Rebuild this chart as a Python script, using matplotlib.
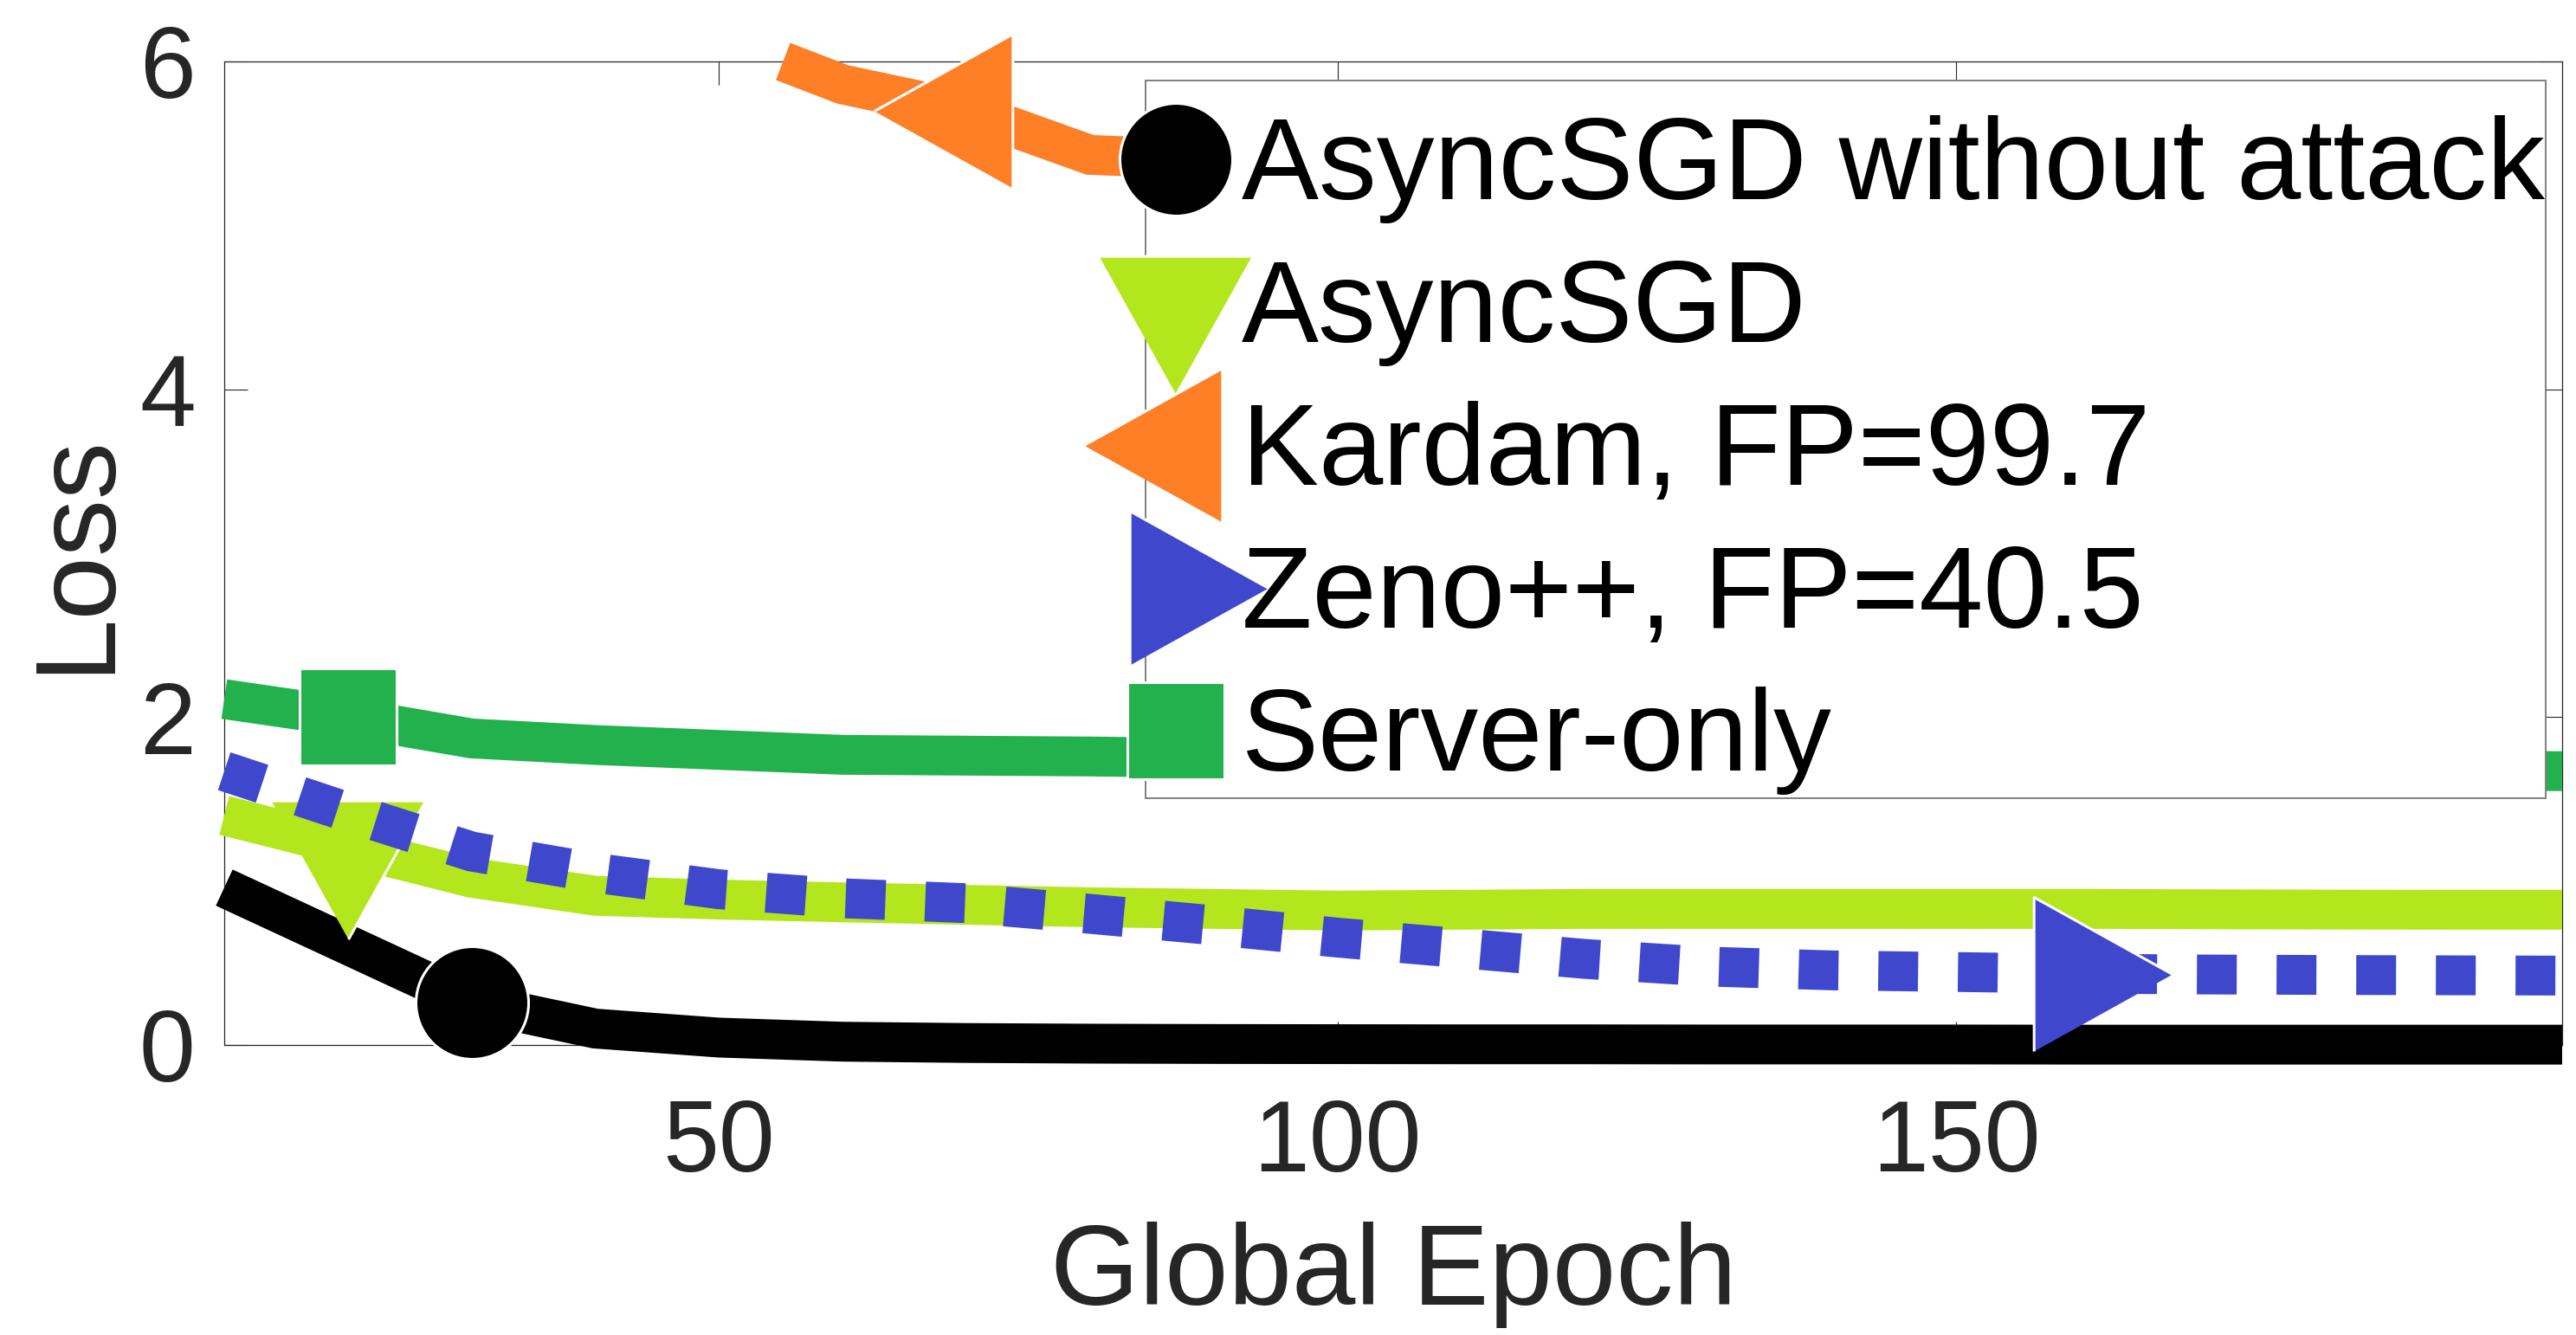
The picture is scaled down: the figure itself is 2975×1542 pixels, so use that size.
import numpy as np
import matplotlib
matplotlib.use('Agg')
import matplotlib.pyplot as plt
from matplotlib.lines import Line2D
from matplotlib.patches import Rectangle

plt.rcParams['font.family'] = ['Liberation Sans', 'DejaVu Sans']

# epochs and loss curves
epochs = [10, 20, 30, 40, 50, 60, 70, 80, 90, 100, 110, 120, 130, 140, 150, 160, 170, 180, 190, 200]
loss_no_attack = [0.96, 0.61, 0.26, 0.10, 0.045, 0.02, 0.012, 0.008, 0.006, 0.005, 0.004, 0.004, 0.003,
                  0.003, 0.003, 0.002, 0.002, 0.002, 0.002, 0.002]
loss_async = [1.40, 1.21, 1.02, 0.91, 0.887, 0.87, 0.855, 0.84, 0.83, 0.82, 0.825, 0.83, 0.83,
              0.83, 0.83, 0.83, 0.828, 0.826, 0.825, 0.825]
loss_kardam = [9.0, 8.1, 7.3, 6.6, 6.15, 5.86, 5.70, 5.43, 5.40, 5.38, 5.36, 5.35, 5.34,
               5.33, 5.32, 5.31, 5.30, 5.30, 5.30]
loss_zeno = [1.67, 1.42, 1.18, 1.05, 0.95, 0.895, 0.865, 0.80, 0.73, 0.655, 0.59, 0.525, 0.478,
             0.455, 0.445, 0.435, 0.43, 0.427, 0.425, 0.423]
loss_server = [2.11, 2.00, 1.87, 1.83, 1.80, 1.77, 1.765, 1.76, 1.75, 1.74, 1.73, 1.72, 1.71,
               1.70, 1.695, 1.69, 1.685, 1.68, 1.675, 1.67]

labels = ['AsyncSGD without attack', 'AsyncSGD', 'Kardam, FP=99.7', 'Zeno++, FP=40.5', 'Server-only']
colors = ['#000000', '#b3e61c', '#ff7f27', '#3f48cc', '#22b14c']
mark_at = [30, 20, 70, 160, 20]

XLIM = (10, 199)
YLIM = (0, 6)


def clip_line(x, y, xlo, xhi, yhi):
    """clip the polyline to the axes box (like matlab does) so the thick stroke can run past it"""
    px, py = [], []
    for i in range(len(x) - 1):
        x0, y0, x1, y1 = x[i], y[i], x[i + 1], y[i + 1]
        dx, dy = x1 - x0, y1 - y0
        t0, t1 = 0.0, 1.0
        ok = True
        for p, q in [(-dx, x0 - xlo), (dx, xhi - x0), (dy, yhi - y0)]:
            if p == 0:
                if q < 0:
                    ok = False
            elif p < 0:
                t0 = max(t0, q / p)
            else:
                t1 = min(t1, q / p)
        if not ok or t0 > t1:
            continue
        for t in (t0, t1):
            pt = (x0 + t * dx, y0 + t * dy)
            if not px or abs(px[-1] - pt[0]) > 1e-9 or abs(py[-1] - pt[1]) > 1e-9:
                px.append(pt[0])
                py.append(pt[1])
    return np.array(px), np.array(py)


def tri(direction):
    # triangle with centroid at the origin (matlab style), sizes in px
    w, h = 178, 160
    if direction == 'down':
        return [(-w / 2, h / 3), (w / 2, h / 3), (0, -2 * h / 3)]
    if direction == 'left':
        return [(h / 3, -w / 2), (h / 3, w / 2), (-2 * h / 3, 0)]
    return [(-h / 3, -w / 2), (-h / 3, w / 2), (2 * h / 3, 0)]


PX = 72 / 100  # px -> pt at dpi 100
tri_ms = 2 * (2 * 160 / 3) * PX
markers = ['o', tri('down'), tri('left'), tri('right'), 's']
msizes = [130 * PX, tri_ms, tri_ms, tri_ms, 112 * PX]
styles = ['-', '-', '-', (0, (1, 1)), '-']
series = [loss_no_attack, loss_async, loss_kardam, loss_zeno, loss_server]

fig = plt.figure(figsize=(29.75, 15.42), dpi=100)
ax = fig.add_axes([259 / 2975, 1 - 1207 / 1542, 2700 / 2975, 1136 / 1542])

LW = 46 * PX
for vals, c, ls, m, ms, at in zip(series, colors, styles, markers, msizes, mark_at):
    x = np.array(epochs[:len(vals)], dtype=float)
    y = np.array(vals, dtype=float)
    cx, cy = clip_line(x, y, XLIM[0], XLIM[1], YLIM[1])
    ax.plot(cx, cy, color=c, lw=LW, ls=ls, solid_capstyle='butt', dash_capstyle='butt',
            solid_joinstyle='miter', dash_joinstyle='miter', clip_on=False, zorder=3)
    i = epochs.index(at)
    ax.plot([epochs[i]], [vals[i]], ls='none', marker=m, ms=ms, color=c, mec='white', mew=2.2,
            clip_on=False, zorder=3)

ax.set_xlim(*XLIM)
ax.set_ylim(*YLIM)
ax.set_xticks([50, 100, 150])
ax.set_yticks([0, 2, 4, 6])
ax.tick_params(direction='in', length=19.5, width=0.8, top=True, right=True,
               labelsize=84, colors='#262626')
ax.tick_params(axis='x', pad=44)
ax.tick_params(axis='y', pad=24)
for s in ax.spines.values():
    s.set_color('#262626')
    s.set_linewidth(0.9)

ax.set_xlabel('Global Epoch', fontsize=95, color='#262626')
ax.set_ylabel('Loss', fontsize=95, color='#262626')
ax.xaxis.set_label_coords(0.5, -0.18)
ax.yaxis.set_label_coords(-0.0405, 0.5)

# legend box drawn separately (matlab pads the top more than the bottom)
box = Rectangle((0.394, 0.251), 0.599, 0.730, transform=ax.transAxes, facecolor='white',
                edgecolor='#7f7f7f', lw=1.4, clip_on=False, zorder=9)
ax.add_patch(box)

handles = [Line2D([], [], ls='none', marker=m, ms=ms, color=c, mec='white', mew=2.2)
           for m, ms, c in zip(markers, msizes, colors)]
leg = ax.legend(handles, labels, loc='upper left', bbox_to_anchor=(0.398, 0.945), fontsize=96,
                frameon=False, borderpad=0, handlelength=0.37, handletextpad=0.38,
                labelspacing=0.3, borderaxespad=0)
leg.set_zorder(10)

fig.savefig('out.png', dpi=100)
